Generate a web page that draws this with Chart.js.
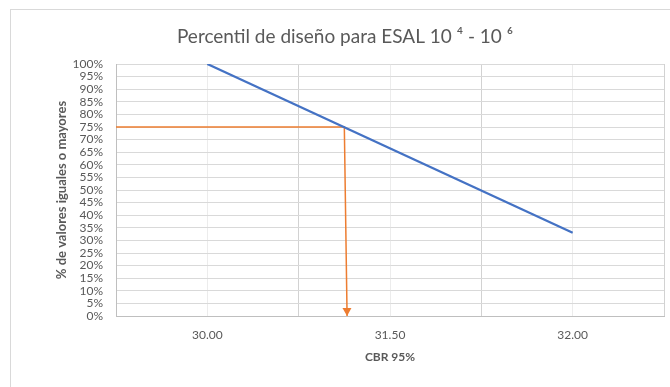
<!DOCTYPE html>
<html>
<head>
<meta charset="utf-8">
<script src="https://cdn.jsdelivr.net/npm/chart.js@4"></script>
<style>
  html, body { margin: 0; padding: 0; background: #ffffff; }
  #wrap { width: 670px; height: 387px; position: relative; }
</style>
</head>
<body>
<div id="wrap"><canvas id="chart" width="670" height="387"></canvas></div>
<script>
// Category positions along the CBR axis and the labels printed under them
const xTickLabels = ['', '30.00', '', '31.50', '', '32.00', ''];

// Design percentile curve (position on the CBR axis, % of values equal or greater)
const curveX = [1, 5];
const curvePct = [100, 33];

// Reading guide: from 75 % across to the curve, then down to the CBR axis
const guideX = [0, 2.50, 2.53];
const guidePct = [75, 75, 0];

const toPoints = (xs, ys) => xs.map((x, i) => ({ x: x, y: ys[i] }));

const GRAY_TEXT = '#595959';
const FONT = 'Lato, "Open Sans", "DejaVu Sans", sans-serif';
const PAD_LEFT = 26;

// Light frame around the whole chart object
const framePlugin = {
  id: 'frame',
  beforeDraw(chart) {
    const ctx = chart.ctx;
    ctx.save();
    ctx.fillStyle = '#ffffff';
    ctx.fillRect(0, 0, chart.width, chart.height);
    ctx.strokeStyle = '#d9d9d9';
    ctx.lineWidth = 1;
    ctx.strokeRect(10.5, 9.5, chart.width + 20, chart.height + 20);
    ctx.restore();
  }
};

// Arrowhead at the end of the reading guide
const arrowPlugin = {
  id: 'arrowHead',
  afterDatasetsDraw(chart) {
    const meta = chart.getDatasetMeta(1);
    const pts = meta.data;
    if (!pts || pts.length < 2) return;
    const tip = pts[pts.length - 1];
    const prev = pts[pts.length - 2];
    const ang = Math.atan2(tip.y - prev.y, tip.x - prev.x);
    const len = 8, half = 4.5;
    const ctx = chart.ctx;
    ctx.save();
    ctx.translate(tip.x, tip.y);
    ctx.rotate(ang);
    ctx.beginPath();
    ctx.moveTo(0, 0);
    ctx.lineTo(-len, -half);
    ctx.lineTo(-len, half);
    ctx.closePath();
    ctx.fillStyle = '#ed7d31';
    ctx.fill();
    ctx.restore();
  }
};

new Chart(document.getElementById('chart'), {
  type: 'line',
  data: {
    datasets: [
      {
        label: 'Percentil',
        data: toPoints(curveX, curvePct),
        borderColor: '#4472c4',
        borderWidth: 2.25,
        pointRadius: 0,
        tension: 0,
        fill: false
      },
      {
        label: 'Lectura',
        data: toPoints(guideX, guidePct),
        borderColor: '#ed7d31',
        borderWidth: 1.5,
        pointRadius: 0,
        tension: 0,
        fill: false
      }
    ]
  },
  options: {
    responsive: false,
    animation: false,
    layout: { padding: { left: PAD_LEFT, right: 6, top: 0, bottom: 0 } },
    plugins: {
      legend: { display: false },
      tooltip: { enabled: false },
      title: {
        display: true,
        text: 'Percentil de diseño para ESAL 10 \u2074 - 10 \u2076',
        color: GRAY_TEXT,
        font: { family: FONT, size: 19, weight: 'normal' },
        padding: { top: 25, bottom: 16.2 }
      }
    },
    scales: {
      x: {
        type: 'linear',
        position: 'bottom',
        min: 0,
        max: 6,
        afterFit(scale) {
          scale.height = 71;
          scale.paddingLeft = 0;
          scale.paddingRight = 0;
        },
        ticks: {
          stepSize: 1,
          autoSkip: false,
          maxRotation: 0,
          padding: 12,
          color: GRAY_TEXT,
          font: { family: FONT, size: 12 },
          callback: (v) => (xTickLabels[v] !== undefined ? xTickLabels[v] : '')
        },
        grid: {
          drawTicks: false,
          lineWidth: 1,
          color: (ctx) => (ctx.tick && ctx.tick.value % 2 === 0 ? '#d2d2d2' : '#ececec')
        },
        border: { color: '#bfbfbf', width: 1 },
        title: {
          display: true,
          text: 'CBR 95%',
          color: GRAY_TEXT,
          font: { family: FONT, size: 12, weight: 'bold' },
          padding: { top: 0, bottom: 22.8 }
        }
      },
      y: {
        min: 0,
        max: 100,
        afterFit(scale) { scale.width = 116 - PAD_LEFT; },
        ticks: {
          stepSize: 5,
          autoSkip: false,
          padding: 13,
          color: GRAY_TEXT,
          font: { family: FONT, size: 12 },
          callback: (v) => v + '%'
        },
        grid: {
          drawTicks: false,
          lineWidth: 1,
          color: '#d9d9d9'
        },
        border: { color: '#bfbfbf', width: 1 },
        title: {
          display: true,
          text: '% de valores iguales o mayores',
          color: GRAY_TEXT,
          font: { family: FONT, size: 13, weight: 'bold' },
          padding: { top: 62 - PAD_LEFT - 7.8, bottom: 0 }
        }
      }
    }
  },
  plugins: [framePlugin, arrowPlugin]
});
</script>
</body>
</html>
